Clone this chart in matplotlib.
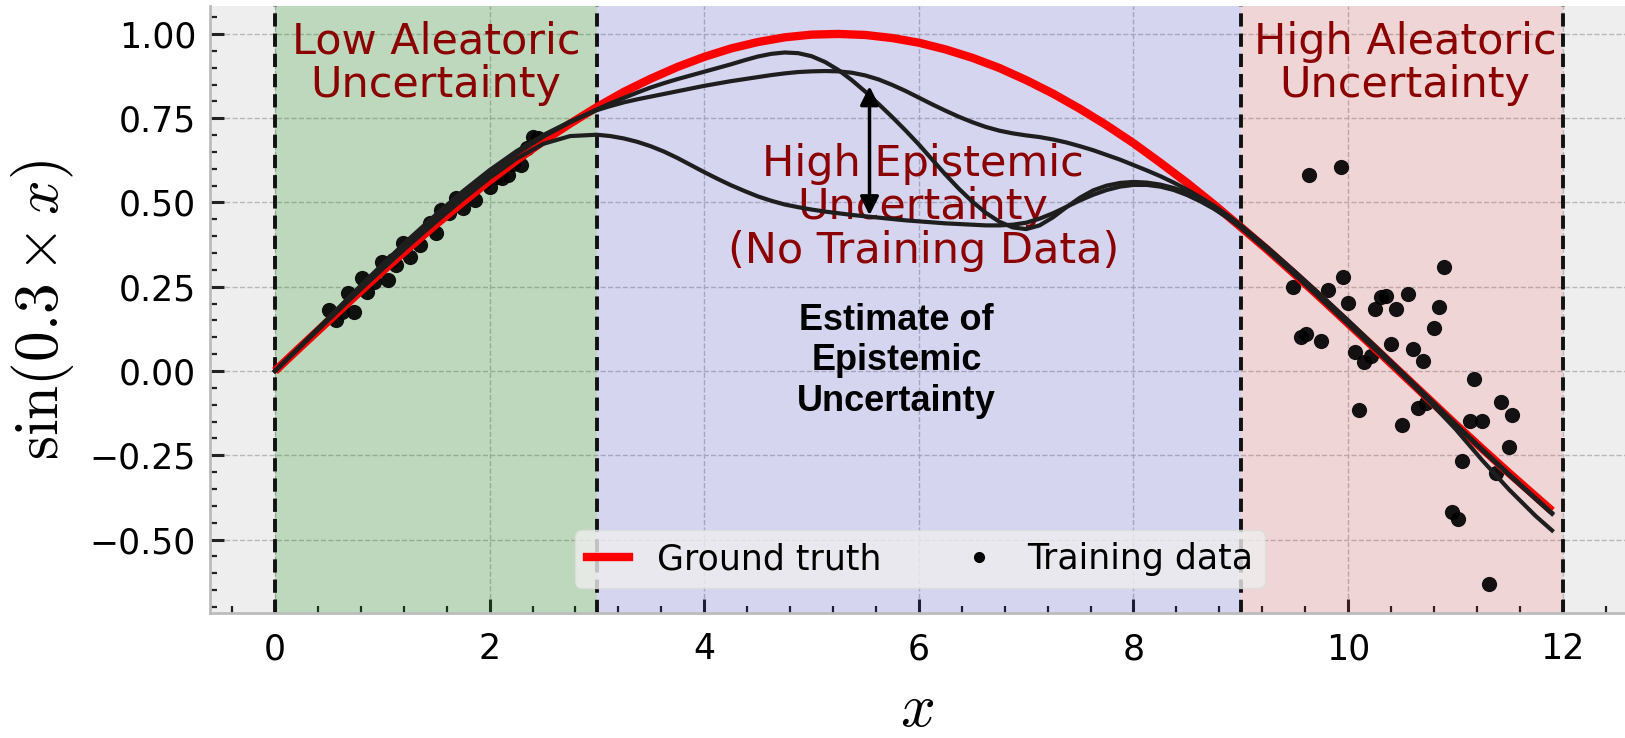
import matplotlib
matplotlib.use("Agg")
import matplotlib.pyplot as plt
from matplotlib.ticker import AutoMinorLocator
from matplotlib.lines import Line2D

plt.rcParams['mathtext.fontset'] = 'cm'
plt.rcParams['font.family'] = ['DejaVu Sans']

# ground truth curve, sampled every 0.25
x_truth = [0.0, 0.25, 0.5, 0.75, 1.0, 1.25, 1.5, 1.75, 2.0, 2.25, 2.5, 2.75,
           3.0, 3.25, 3.5, 3.75, 4.0, 4.25, 4.5, 4.75, 5.0, 5.25, 5.5, 5.75,
           6.0, 6.25, 6.5, 6.75, 7.0, 7.25, 7.5, 7.75, 8.0, 8.25, 8.5, 8.75,
           9.0, 9.25, 9.5, 9.75, 10.0, 10.25, 10.5, 10.75, 11.0, 11.25, 11.5, 11.75, 11.9]
ground_truth = [0.000, 0.075, 0.149, 0.223, 0.296, 0.366, 0.435, 0.501, 0.565, 0.625, 0.682, 0.734,
                0.783, 0.828, 0.867, 0.902, 0.932, 0.957, 0.976, 0.990, 0.998, 1.000, 0.997, 0.988,
                0.974, 0.954, 0.929, 0.899, 0.863, 0.823, 0.778, 0.729, 0.676, 0.618, 0.558, 0.494,
                0.427, 0.359, 0.288, 0.215, 0.141, 0.067, -0.008, -0.083, -0.158, -0.231, -0.303, -0.373, -0.415]

# fitted model curves (finer sampling in the no-data region)
x_fit = [0.0, 0.25, 0.5, 0.75, 1.0, 1.25, 1.5, 1.75, 2.0, 2.25, 2.5, 2.75, 3.0,
         3.125, 3.25, 3.375, 3.5, 3.625, 3.75, 3.875,
         4.0, 4.125, 4.25, 4.375, 4.5, 4.625, 4.75, 4.875,
         5.0, 5.125, 5.25, 5.375, 5.5, 5.625, 5.75, 5.875,
         6.0, 6.125, 6.25, 6.375, 6.5, 6.625, 6.75, 6.875,
         7.0, 7.125, 7.25, 7.375, 7.5, 7.625, 7.75, 7.875,
         8.0, 8.125, 8.25, 8.375, 8.5, 8.625, 8.75, 8.875, 9.0,
         9.25, 9.5, 9.75, 10.0, 10.25, 10.5, 10.75, 11.0, 11.25, 11.5, 11.75, 11.9]

fit_low = [0.000, 0.076, 0.152, 0.228, 0.302, 0.374, 0.443, 0.510, 0.573, 0.630, 0.674, 0.697, 0.701,
           0.697, 0.690, 0.680, 0.667, 0.651, 0.632, 0.611,
           0.590, 0.570, 0.551, 0.534, 0.518, 0.505, 0.494, 0.486,
           0.479, 0.473, 0.468, 0.463, 0.459, 0.455, 0.451, 0.447,
           0.444, 0.441, 0.438, 0.436, 0.434, 0.432, 0.432, 0.434,
           0.440, 0.452, 0.468, 0.487, 0.506, 0.523, 0.537, 0.547,
           0.552, 0.552, 0.547, 0.537, 0.522, 0.503, 0.481, 0.455, 0.425,
           0.357, 0.286, 0.213, 0.139, 0.065, -0.010, -0.088, -0.172, -0.265, -0.352, -0.431, -0.473]

fit_peak = [0.000, 0.077, 0.155, 0.233, 0.310, 0.384, 0.455, 0.523, 0.587, 0.645, 0.695, 0.738, 0.776,
            0.794, 0.810, 0.826, 0.841, 0.854, 0.866, 0.877,
            0.888, 0.899, 0.910, 0.922, 0.933, 0.941, 0.945, 0.943,
            0.934, 0.917, 0.893, 0.863, 0.829, 0.792, 0.754, 0.714,
            0.672, 0.627, 0.582, 0.540, 0.502, 0.469, 0.443, 0.426,
            0.421, 0.432, 0.456, 0.486, 0.514, 0.536, 0.550, 0.558,
            0.561, 0.559, 0.553, 0.543, 0.529, 0.511, 0.489, 0.462, 0.431,
            0.364, 0.294, 0.222, 0.148, 0.072, -0.005, -0.082, -0.159, -0.235, -0.309, -0.381, -0.424]

fit_mid = [0.000, 0.078, 0.158, 0.238, 0.316, 0.392, 0.464, 0.533, 0.596, 0.652, 0.700, 0.740, 0.774,
           0.786, 0.797, 0.806, 0.814, 0.822, 0.830, 0.838,
           0.846, 0.853, 0.860, 0.866, 0.872, 0.878, 0.883, 0.887,
           0.889, 0.890, 0.889, 0.885, 0.877, 0.865, 0.849, 0.831,
           0.811, 0.791, 0.772, 0.754, 0.738, 0.724, 0.713, 0.705,
           0.699, 0.694, 0.687, 0.678, 0.667, 0.655, 0.641, 0.627,
           0.611, 0.595, 0.578, 0.559, 0.538, 0.515, 0.490, 0.462, 0.432,
           0.366, 0.296, 0.224, 0.150, 0.074, -0.003, -0.080, -0.157, -0.232, -0.306, -0.378, -0.421]

# training data, low-noise region
low_x = [0.50, 0.57, 0.62, 0.68, 0.74, 0.81, 0.86, 0.92, 1.00, 1.05, 1.10, 1.13, 1.19, 1.26, 1.35,
         1.44, 1.50, 1.55, 1.62, 1.69, 1.75, 1.86, 1.95, 2.00, 2.07, 2.12, 2.17, 2.22, 2.29, 2.35, 2.40, 2.45]
low_y = [0.181, 0.151, 0.175, 0.231, 0.176, 0.275, 0.235, 0.265, 0.324, 0.270, 0.330, 0.315, 0.379, 0.339, 0.374,
         0.438, 0.409, 0.478, 0.470, 0.512, 0.483, 0.507, 0.560, 0.547, 0.575, 0.572, 0.582, 0.615, 0.611, 0.661, 0.695, 0.690]

# training data, high-noise region
high_x = [9.49, 9.56, 9.61, 9.64, 9.75, 9.81, 9.93, 9.95, 10.00, 10.06, 10.10, 10.15, 10.21, 10.25,
          10.31, 10.35, 10.40, 10.45, 10.50, 10.56, 10.60, 10.65, 10.70, 10.73, 10.80, 10.85, 10.89,
          10.97, 11.02, 11.06, 11.14, 11.17, 11.25, 11.31, 11.38, 11.42, 11.50, 11.53]
high_y = [0.250, 0.100, 0.110, 0.582, 0.089, 0.240, 0.605, 0.280, 0.203, 0.057, -0.115, 0.027, 0.043, 0.185,
          0.220, 0.222, 0.079, 0.185, -0.159, 0.227, 0.065, -0.111, 0.030, -0.095, 0.129, 0.190, 0.309,
          -0.418, -0.440, -0.268, -0.147, -0.025, -0.147, -0.632, -0.302, -0.091, -0.226, -0.132]

region_edges = [0, 3, 9, 12]
x_major = [0, 2, 4, 6, 8, 10, 12]
y_major = [-0.50, -0.25, 0.00, 0.25, 0.50, 0.75, 1.00]

fig = plt.figure(figsize=(16.25, 7.38), dpi=100)
ax = fig.add_axes([0.1292, 0.1694, 0.8708, 0.8225])
ax.set_facecolor('#eeeeee')
ax.set_axisbelow(True)
ax.grid(True, which='major', color='#b8b8b8', linestyle='--', linewidth=1.0)

ax.axvspan(region_edges[0], region_edges[1], color=(0, 0.5, 0), alpha=0.2, lw=0, zorder=1)
ax.axvspan(region_edges[1], region_edges[2], color=(0, 0, 1), alpha=0.1, lw=0, zorder=1)
ax.axvspan(region_edges[2], region_edges[3], color=(1, 0, 0), alpha=0.1, lw=0, zorder=1)
for xe in region_edges:
    ax.axvline(xe, color='#111111', linestyle=(0, (3.4, 1.8)), linewidth=2.8, zorder=2)

ax.scatter(low_x + high_x, low_y + high_y, s=120, color='black', alpha=0.92, lw=0, zorder=3)
ax.plot(x_truth, ground_truth, color='red', lw=6, zorder=4, solid_capstyle='butt')
for fit in (fit_low, fit_peak, fit_mid):
    ax.plot(x_fit, fit, color='#1e1e1e', lw=3.0, zorder=5)

ax.text(1.5, 0.912, 'Low Aleatoric\nUncertainty', ha='center', va='center',
        color='#8b0000', fontsize=31, linespacing=1.05, zorder=6)
ax.text(10.53, 0.912, 'High Aleatoric\nUncertainty', ha='center', va='center',
        color='#8b0000', fontsize=31, linespacing=1.05, zorder=6)
ax.text(6.04, 0.486, 'High Epistemic\nUncertainty\n(No Training Data)', ha='center', va='center',
        color='#8b0000', fontsize=31, linespacing=1.05, zorder=4.5)
ax.text(5.79, 0.03, 'Estimate of\nEpistemic\nUncertainty', ha='center', va='center',
        color='black', fontsize=26, fontweight='bold', family='Liberation Sans',
        linespacing=1.2, zorder=6)
ax.annotate('', xy=(5.54, 0.845), xytext=(5.54, 0.462),
            arrowprops=dict(arrowstyle='<|-|>', color='black', lw=2.5,
                            mutation_scale=28, shrinkA=0, shrinkB=0), zorder=7)

ax.set_xlim(-0.606, 12.58)
ax.set_ylim(-0.718, 1.083)
ax.set_xticks(x_major)
ax.set_yticks(y_major)
ax.set_yticklabels([f'{v:.2f}'.replace('-', '\u2212') for v in y_major])
ax.xaxis.set_minor_locator(AutoMinorLocator(5))
ax.yaxis.set_minor_locator(AutoMinorLocator(5))
ax.tick_params(which='both', direction='in', color='#222222', labelsize=25,
               top=False, right=False)
ax.tick_params(which='major', length=10, width=2.2)
ax.tick_params(which='minor', length=5, width=1.6)
ax.tick_params(axis='x', which='major', pad=14)
ax.tick_params(axis='y', which='major', pad=10)
for side in ('top', 'right'):
    ax.spines[side].set_visible(False)
for side in ('left', 'bottom'):
    ax.spines[side].set_color('#bcbcbc')
    ax.spines[side].set_linewidth(2)

ax.set_xlabel('$x$', fontsize=44, labelpad=10)
ax.set_ylabel(r'$\sin(0.3\times x)$', fontsize=44, labelpad=10)

handles = [Line2D([], [], color='red', lw=6),
           Line2D([], [], color='black', marker='o', ls='none', ms=7)]
leg = ax.legend(handles, ['Ground truth', 'Training data'], loc='lower center',
                bbox_to_anchor=(0.502, 0.012), ncol=2, fontsize=25, frameon=True,
                facecolor='#eeeeee', edgecolor='#dddddd', framealpha=0.8,
                handlelength=1.2, handletextpad=0.8, columnspacing=2.2, borderpad=0.35)
leg.set_zorder(8)

fig.savefig('out.png', dpi=100)
